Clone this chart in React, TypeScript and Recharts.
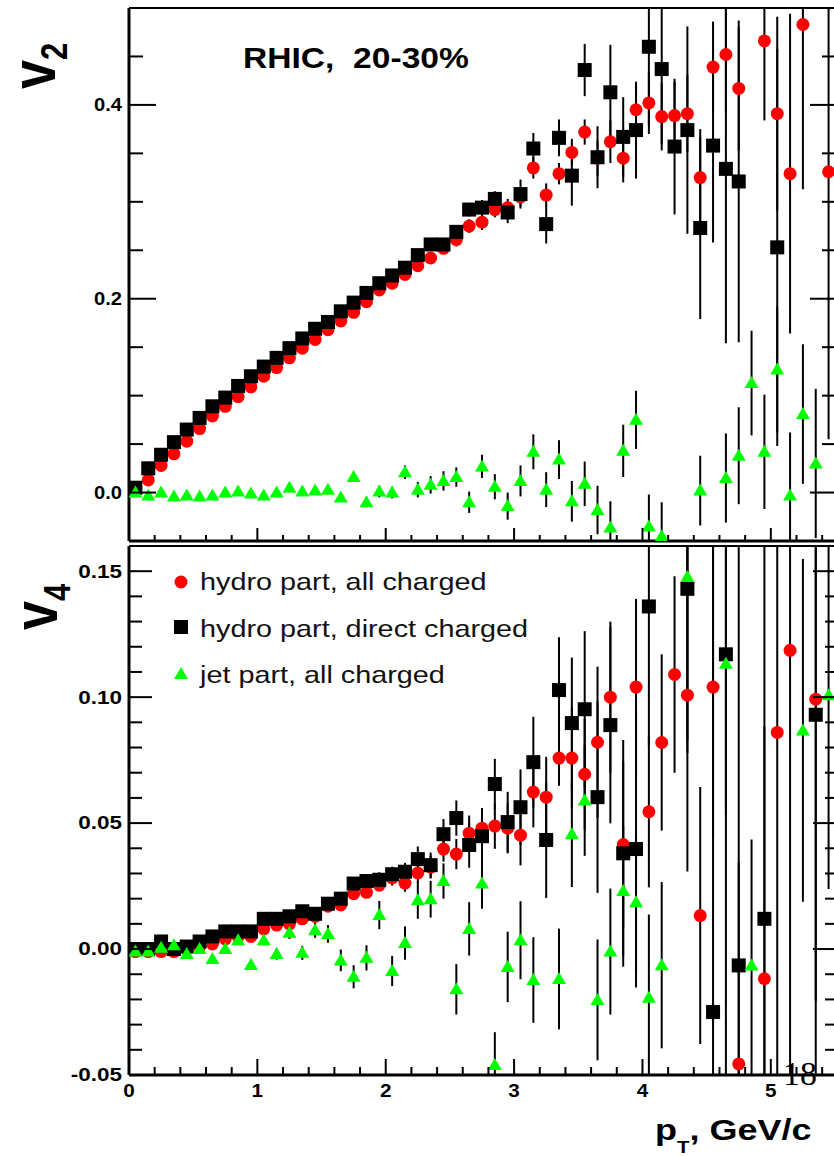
import React from "react";
import { ScatterChart, Scatter, XAxis, YAxis, ErrorBar } from "recharts";

// pT bin centres, GeV/c
const PT = [
  0.05, 0.15, 0.25, 0.35, 0.45, 0.55, 0.65, 0.75, 0.85, 0.95,
  1.05, 1.15, 1.25, 1.35, 1.45, 1.55, 1.65, 1.75, 1.85, 1.95,
  2.05, 2.15, 2.25, 2.35, 2.45, 2.55, 2.65, 2.75, 2.85, 2.95,
  3.05, 3.15, 3.25, 3.35, 3.45, 3.55, 3.65, 3.75, 3.85, 3.95,
  4.05, 4.15, 4.25, 4.35, 4.45, 4.55, 4.65, 4.75, 4.85, 4.95,
  5.05, 5.15, 5.25, 5.35, 5.45,
];

// v2 panel (null = point outside the frame)
const V2_HYDRO_ALL = [
  0.003, 0.013, 0.028, 0.04, 0.053, 0.066, 0.079, 0.089, 0.099, 0.109,
  0.12, 0.129, 0.139, 0.149, 0.158, 0.168, 0.177, 0.186, 0.197, 0.209,
  0.216, 0.225, 0.234, 0.242, 0.252, 0.261, 0.275, 0.279, 0.292, 0.294,
  0.305, 0.335, 0.307, 0.329, 0.351, 0.372, 0.345, 0.362, 0.345, 0.395,
  0.402, 0.388, 0.389, 0.391, 0.325, 0.439, 0.452, 0.417, null, 0.466,
  0.391, 0.329, 0.483, null, 0.331,
];
const V2_HYDRO_ALL_ERR = [
  0.002, 0.002, 0.002, 0.002, 0.002, 0.002, 0.002, 0.003, 0.003, 0.003,
  0.003, 0.003, 0.003, 0.003, 0.004, 0.004, 0.004, 0.004, 0.004, 0.005,
  0.005, 0.005, 0.006, 0.006, 0.006, 0.007, 0.007, 0.008, 0.008, 0.009,
  0.01, 0.011, 0.012, 0.011, 0.014, 0.013, 0.018, 0.022, 0.025, 0.028,
  0.032, 0.035, 0.035, 0.04, 0.05, 0.047, 0.06, 0.064, null, 0.082,
  0.1, 0.165, 0.17, null, 0.276,
];
const V2_HYDRO_DIRECT = [
  0.005, 0.025, 0.039, 0.052, 0.065, 0.077, 0.089, 0.098, 0.11, 0.12,
  0.13, 0.139, 0.149, 0.159, 0.169, 0.176, 0.187, 0.196, 0.206, 0.216,
  0.224, 0.232, 0.245, 0.256, 0.256, 0.269, 0.292, 0.294, 0.303, 0.289,
  0.308, 0.355, 0.277, 0.366, 0.327, 0.436, 0.346, 0.413, 0.367, 0.374,
  0.46, 0.437, 0.357, 0.374, 0.273, 0.358, 0.334, 0.321, null, null,
  0.253, null, null, null, null,
];
const V2_HYDRO_DIRECT_ERR = [
  0.003, 0.003, 0.003, 0.003, 0.003, 0.003, 0.003, 0.003, 0.003, 0.004,
  0.004, 0.004, 0.004, 0.004, 0.004, 0.004, 0.005, 0.005, 0.005, 0.005,
  0.005, 0.006, 0.006, 0.006, 0.006, 0.007, 0.007, 0.008, 0.008, 0.011,
  0.015, 0.016, 0.02, 0.019, 0.031, 0.027, 0.032, 0.049, 0.041, 0.05,
  0.081, 0.078, 0.07, 0.107, 0.094, 0.1, 0.18, 0.166, null, null,
  0.205, null, null, null, null,
];
const V2_JET = [
  0.0, -0.003, 0.0, -0.004, -0.003, -0.004, -0.003, 0.0, 0.001, -0.001,
  -0.003, 0.0, 0.005, 0.001, 0.002, 0.003, -0.005, 0.016, -0.01, 0.001,
  0.0, 0.021, 0.003, 0.008, 0.012, 0.016, -0.01, 0.027, 0.006, -0.014,
  0.012, 0.042, 0.003, 0.034, -0.009, 0.009, -0.018, -0.036, 0.043, 0.075,
  -0.035, -0.045, null, null, 0.002, null, 0.015, 0.038, 0.113, 0.042,
  0.127, -0.003, 0.081, 0.03, null,
];
const V2_JET_ERR = [
  0.002, 0.002, 0.002, 0.002, 0.002, 0.002, 0.002, 0.002, 0.003, 0.003,
  0.003, 0.003, 0.003, 0.003, 0.004, 0.004, 0.004, 0.005, 0.005, 0.006,
  0.006, 0.007, 0.008, 0.009, 0.01, 0.01, 0.011, 0.012, 0.013, 0.014,
  0.016, 0.018, 0.018, 0.02, 0.021, 0.023, 0.025, 0.027, 0.027, 0.03,
  0.033, 0.035, null, null, 0.036, null, 0.046, 0.05, 0.054, 0.059,
  0.065, 0.065, 0.072, 0.077, null,
];

// v4 panel
const V4_HYDRO_ALL = [
  -0.001, -0.001, -0.001, -0.001, 0.0, 0.001, 0.002, 0.004, 0.005, 0.005,
  0.008, 0.0095, 0.01, 0.012, 0.013, 0.017, 0.0175, 0.022, 0.0225, 0.0254,
  0.0282, 0.0262, 0.0302, 0.0325, 0.0397, 0.0377, 0.046, 0.048, 0.0488, 0.048,
  0.0452, 0.0623, 0.0603, 0.0758, 0.0758, 0.0694, 0.0821, 0.1, 0.0415, 0.104,
  0.0545, 0.082, 0.109, 0.1008, 0.0133, 0.104, null, -0.0456, null, -0.0118,
  0.086, 0.1186, null, 0.0992, null,
];
const V4_HYDRO_ALL_ERR = [
  0.0005, 0.0005, 0.0005, 0.0005, 0.0005, 0.0006, 0.0006, 0.0007, 0.0007, 0.0008,
  0.0009, 0.001, 0.001, 0.0012, 0.0013, 0.0015, 0.0017, 0.002, 0.0022, 0.0025,
  0.003, 0.0035, 0.004, 0.0045, 0.005, 0.006, 0.007, 0.008, 0.009, 0.01,
  0.012, 0.014, 0.016, 0.011, 0.02, 0.022, 0.03, 0.03, 0.033, 0.035,
  0.03, 0.035, 0.039, 0.07, 0.051, 0.06, null, 0.08, null, 0.1,
  0.15, 0.18, null, 0.12, null,
];
const V4_HYDRO_DIRECT = [
  0.0, 0.0, 0.003, 0.0, 0.001, 0.003, 0.005, 0.007, 0.007, 0.007,
  0.012, 0.012, 0.013, 0.015, 0.014, 0.018, 0.02, 0.026, 0.027, 0.0275,
  0.0297, 0.0307, 0.0357, 0.0333, 0.0456, 0.052, 0.0413, 0.0448, 0.0655, 0.0504,
  0.0563, 0.0742, 0.0433, 0.1028, 0.0897, 0.0952, 0.0603, 0.0889, 0.038, 0.0397,
  0.136, null, null, 0.143, null, -0.025, 0.117, -0.0065, null, 0.012,
  null, null, null, 0.093, null,
];
const V4_HYDRO_DIRECT_ERR = [
  0.0005, 0.0005, 0.0005, 0.0005, 0.0006, 0.0006, 0.0007, 0.0007, 0.0008, 0.0008,
  0.0009, 0.001, 0.001, 0.0012, 0.0013, 0.0015, 0.0017, 0.002, 0.0025, 0.003,
  0.003, 0.0035, 0.005, 0.005, 0.006, 0.007, 0.009, 0.009, 0.01, 0.012,
  0.015, 0.018, 0.023, 0.021, 0.026, 0.031, 0.038, 0.039, 0.045, 0.055,
  0.055, null, null, 0.06, null, 0.2, 0.18, 0.18, null, 0.16,
  null, null, null, 0.16, null,
];
const V4_JET = [
  -0.001, -0.001, 0.0005, 0.0015, -0.002, 0.0, -0.004, 0.0, 0.0035, -0.0063,
  0.0035, -0.002, 0.0065, -0.0015, 0.0075, 0.006, -0.0045, -0.011, -0.0035, 0.0135,
  -0.0087, 0.0024, 0.0194, 0.0198, 0.027, -0.016, 0.008, 0.026, -0.046, -0.0071,
  0.0035, -0.0123, null, -0.0119, 0.0456, 0.059, -0.0202, -0.001, 0.023, 0.0186,
  -0.0193, -0.0064, null, 0.1477, null, null, 0.1133, null, -0.0065, null,
  null, null, 0.0868, null, 0.1008,
];
const V4_JET_ERR = [
  0.001, 0.001, 0.001, 0.001, 0.001, 0.001, 0.0012, 0.0013, 0.0015, 0.0017,
  0.002, 0.0022, 0.0025, 0.0028, 0.003, 0.0035, 0.0043, 0.0046, 0.005, 0.0056,
  0.006, 0.0066, 0.0074, 0.0073, 0.007, 0.01, 0.0106, 0.01, 0.013, 0.014,
  0.0155, 0.017, null, 0.02, 0.021, 0.022, 0.024, 0.025, 0.026, 0.027,
  0.033, 0.033, null, 0.07, null, null, 0.06, null, 0.05, null,
  null, null, 0.068, null, 0.077,
];

// axes
const X_TICKS = [0, 0.2, 0.4, 0.6, 0.8, 1, 1.2, 1.4, 1.6, 1.8, 2, 2.2, 2.4, 2.6, 2.8, 3, 3.2, 3.4, 3.6, 3.8, 4, 4.2, 4.4, 4.6, 4.8, 5, 5.2, 5.4];
const X_MAJOR = [0, 1, 2, 3, 4, 5];
const X_LABELS = ["0", "1", "2", "3", "4", "5"];
const V2_TICKS = [0, 0.05, 0.1, 0.15, 0.2, 0.25, 0.3, 0.35, 0.4, 0.45];
const V2_MAJOR = [0, 0.2, 0.4];
const V2_LABELS = ["0.0", "0.2", "0.4"];
const V4_TICKS = [-0.05, -0.04, -0.03, -0.02, -0.01, 0, 0.01, 0.02, 0.03, 0.04, 0.05, 0.06, 0.07, 0.08, 0.09, 0.1, 0.11, 0.12, 0.13, 0.14, 0.15];
const V4_MAJOR = [-0.05, 0, 0.05, 0.1, 0.15];
const V4_LABELS = ["-0.05", "0.00", "0.05", "0.10", "0.15"];

const TITLE = "RHIC,  20-30%";
const LEGEND = ["hydro part, all charged", "hydro part, direct charged", "jet part, all charged"];

const RED = "#ff0000";
const GREEN = "#00ff00";
const FONT = "'Liberation Sans', Arial, Helvetica, sans-serif";

const CHART_W = 840;
const PLOT_LEFT = 129;
const PLOT_RIGHT_GAP = 5;

type Pt = { x: number; y: number; e: number };

function pts(ys: (number | null)[], es: (number | null)[]): Pt[] {
  const out: Pt[] = [];
  PT.forEach((x, i) => {
    const y = ys[i];
    if (y !== null) out.push({ x, y, e: es[i] ?? 0 });
  });
  return out;
}

const dot = (p: any) => <circle cx={p.cx} cy={p.cy} r={6.5} fill={RED} />;
const box = (p: any) => <rect x={p.cx - 7} y={p.cy - 7} width={14} height={14} fill="#000" />;
const tri = (p: any) => (
  <path d={`M${p.cx},${p.cy - 7}L${p.cx + 7},${p.cy + 5}L${p.cx - 7},${p.cy + 5}Z`} fill={GREEN} />
);
const blank = () => <g />;

type TickCfg = {
  side: "left" | "right" | "bottom";
  majors: number[];
  labels?: string[];
  major: number;
  minor: number;
  sx?: number;
};

function makeTick(cfg: TickCfg) {
  return (props: any) => {
    const { x, y, payload } = props;
    const v = payload.value as number;
    const mi = cfg.majors.findIndex((m) => Math.abs(m - v) < 1e-6);
    const len = mi >= 0 ? cfg.major : cfg.minor;
    let line;
    if (cfg.side === "left") line = <line x1={x} y1={y} x2={x + len} y2={y} stroke="#000" strokeWidth={2} />;
    else if (cfg.side === "right") line = <line x1={x} y1={y} x2={x - len} y2={y} stroke="#000" strokeWidth={2} />;
    else line = <line x1={x} y1={y} x2={x} y2={y - len} stroke="#000" strokeWidth={2} />;
    let label = null;
    if (cfg.labels && mi >= 0) {
      const sx = cfg.sx ?? 1.15;
      if (cfg.side === "left") {
        label = (
          <text transform={`translate(${x - 7},${y + 6.4}) scale(${sx},1)`} textAnchor="end" fontFamily={FONT} fontWeight="bold" fontSize={18} fill="#000">
            {cfg.labels[mi]}
          </text>
        );
      } else if (cfg.side === "bottom") {
        label = (
          <text transform={`translate(${x},${y + 22}) scale(${sx},1)`} textAnchor="middle" fontFamily={FONT} fontWeight="bold" fontSize={18} fill="#000">
            {cfg.labels[mi]}
          </text>
        );
      }
    }
    return (
      <g>
        {line}
        {label}
      </g>
    );
  };
}

type Series = { data: Pt[]; shape: (p: any) => React.ReactElement };

function Panel(props: {
  top: number;
  height: number;
  mTop: number;
  mBottom: number;
  domain: [number, number];
  yTicks: number[];
  left: TickCfg;
  right: TickCfg;
  bottom: TickCfg;
  series: Series[];
}) {
  const { top, height, mTop, mBottom, domain, yTicks, left, right, bottom, series } = props;
  // plot box (axes on each side are 1px thick in the layout)
  const plotTop = mTop + 1;
  const plotBottomGap = mBottom + 1;
  const plotH = height - plotTop - plotBottomGap;
  const plotW = CHART_W - PLOT_LEFT - PLOT_RIGHT_GAP;

  return (
    <>
      {/* error bars, clipped to the frame like ROOT does */}
      <div style={{ position: "absolute", left: PLOT_LEFT, top: top + plotTop, width: plotW, height: plotH, overflow: "hidden" }}>
        <div style={{ position: "absolute", left: -PLOT_LEFT, top: -plotTop }}>
          <ScatterChart
            width={CHART_W}
            height={height}
            margin={{ top: plotTop, right: PLOT_RIGHT_GAP, bottom: plotBottomGap, left: PLOT_LEFT }}
          >
            <XAxis type="number" dataKey="x" domain={[0, 5.5]} allowDataOverflow hide />
            <YAxis type="number" dataKey="y" domain={domain} allowDataOverflow hide />
            {series.map((s, i) => (
              <Scatter key={"err" + i} data={s.data} shape={blank} isAnimationActive={false}>
                <ErrorBar dataKey="e" direction="y" width={0} stroke="#000" strokeWidth={2} isAnimationActive={false} />
              </Scatter>
            ))}
          </ScatterChart>
        </div>
      </div>
      {/* frame, ticks and markers */}
      <div style={{ position: "absolute", left: 0, top }}>
        <ScatterChart width={CHART_W} height={height} margin={{ top: mTop, right: PLOT_RIGHT_GAP - 1, bottom: mBottom, left: PLOT_LEFT - 1 }}>
          <XAxis
            xAxisId="b"
            type="number"
            dataKey="x"
            domain={[0, 5.5]}
            ticks={X_TICKS}
            interval={0}
            allowDataOverflow
            height={1}
            tickSize={0}
            tickMargin={0}
            tickLine={false}
            tick={makeTick(bottom)}
            axisLine={{ stroke: "#000", strokeWidth: 3 }}
          />
          <XAxis
            xAxisId="t"
            orientation="top"
            type="number"
            domain={[0, 5.5]}
            height={1}
            tick={false}
            tickLine={false}
            axisLine={{ stroke: "#000", strokeWidth: 2 }}
          />
          <YAxis
            yAxisId="l"
            type="number"
            dataKey="y"
            domain={domain}
            ticks={yTicks}
            interval={0}
            allowDataOverflow
            width={1}
            tickSize={0}
            tickMargin={0}
            tickLine={false}
            tick={makeTick(left)}
            axisLine={{ stroke: "#000", strokeWidth: 3 }}
          />
          <YAxis
            yAxisId="r"
            orientation="right"
            type="number"
            domain={domain}
            ticks={yTicks}
            interval={0}
            allowDataOverflow
            width={1}
            tickSize={0}
            tickMargin={0}
            tickLine={false}
            tick={makeTick(right)}
            axisLine={{ stroke: "#000", strokeWidth: 2 }}
          />
          {series.map((s, i) => (
            <Scatter key={"pt" + i} xAxisId="b" yAxisId="l" data={s.data} shape={s.shape} isAnimationActive={false} />
          ))}
        </ScatterChart>
      </div>
    </>
  );
}

// rotated "v_n" axis title; baseline lands at screen x = bx, text starts at screen y = by
function AxisTitle({ bx, by, main, sub, drop, fs }: { bx: number; by: number; main: string; sub: string; drop: number; fs: number }) {
  const lh = 34;
  // baseline position inside the line box for Liberation Sans (ascent .905, descent .212)
  const base = (lh - fs * 1.117) / 2 + fs * 0.905;
  return (
    <div
      style={{
        position: "absolute",
        left: 0,
        top: 0,
        transformOrigin: "0 0",
        transform: `translate(${bx - base * 1.2}px, ${by}px) scaleX(1.2) rotate(-90deg)`,
        fontFamily: FONT,
        fontWeight: "bold",
        fontSize: fs,
        lineHeight: `${lh}px`,
        whiteSpace: "nowrap",
        color: "#000",
      }}
    >
      {main}
      <span style={{ fontSize: 31, position: "relative", top: drop }}>{sub}</span>
    </div>
  );
}

export default function App() {
  const v2Series: Series[] = [
    { data: pts(V2_HYDRO_ALL, V2_HYDRO_ALL_ERR), shape: dot },
    { data: pts(V2_HYDRO_DIRECT, V2_HYDRO_DIRECT_ERR), shape: box },
    { data: pts(V2_JET, V2_JET_ERR), shape: tri },
  ];
  const v4Series: Series[] = [
    { data: pts(V4_HYDRO_ALL, V4_HYDRO_ALL_ERR), shape: dot },
    { data: pts(V4_HYDRO_DIRECT, V4_HYDRO_DIRECT_ERR), shape: box },
    { data: pts(V4_JET, V4_JET_ERR), shape: tri },
  ];

  return (
    <div style={{ position: "absolute", left: 0, top: 0, width: 834, height: 1156, overflow: "hidden", background: "#fff" }}>
      <Panel
        top={0}
        height={548}
        mTop={7}
        mBottom={6}
        domain={[-0.05, 0.5]}
        yTicks={V2_TICKS}
        left={{ side: "left", majors: V2_MAJOR, labels: V2_LABELS, major: 27, minor: 14, sx: 1.12 }}
        right={{ side: "right", majors: V2_MAJOR, major: 25, minor: 13 }}
        bottom={{ side: "bottom", majors: X_MAJOR, major: 13, minor: 6 }}
        series={v2Series}
      />
      <Panel
        top={540}
        height={616}
        mTop={5}
        mBottom={80}
        domain={[-0.05, 0.16]}
        yTicks={V4_TICKS}
        left={{ side: "left", majors: V4_MAJOR, labels: V4_LABELS, major: 23, minor: 13, sx: 1.25 }}
        right={{ side: "right", majors: V4_MAJOR, major: 22, minor: 10 }}
        bottom={{ side: "bottom", majors: X_MAJOR, labels: X_LABELS, major: 16, minor: 8, sx: 1.15 }}
        series={v4Series}
      />
      <AxisTitle bx={55} by={89} main="v" sub="2" drop={10} fs={52} />
      <AxisTitle bx={57} by={630} main="v" sub="4" drop={11} fs={52} />
      <svg width={834} height={1156} style={{ position: "absolute", left: 0, top: 0, pointerEvents: "none" }}>
        <text transform="translate(243,68) scale(1.12,1)" fontFamily={FONT} fontWeight="bold" fontSize={30} fill="#000" style={{ whiteSpace: "pre" }}>
          {TITLE}
        </text>
        <text transform="translate(655,1140) scale(1.2,1)" fontFamily={FONT} fontWeight="bold" fontSize={30} fill="#000" style={{ whiteSpace: "pre" }}>
          p<tspan fontSize={17} dy={13}>T</tspan>
          <tspan dy={-13}>, GeV/c</tspan>
        </text>
        {dot({ cx: 181, cy: 582 })}
        {box({ cx: 181, cy: 627 })}
        {tri({ cx: 181, cy: 674 })}
        {LEGEND.map((t, i) => (
          <text key={t} transform={`translate(200,${590 + i * 46.5}) scale(1.2,1)`} fontFamily={FONT} fontSize={24} fill="#111">
            {t}
          </text>
        ))}
        <text x={783} y={1085} fontFamily="'Liberation Serif', 'Times New Roman', serif" fontSize={34} fill="#000">
          18
        </text>
      </svg>
    </div>
  );
}
